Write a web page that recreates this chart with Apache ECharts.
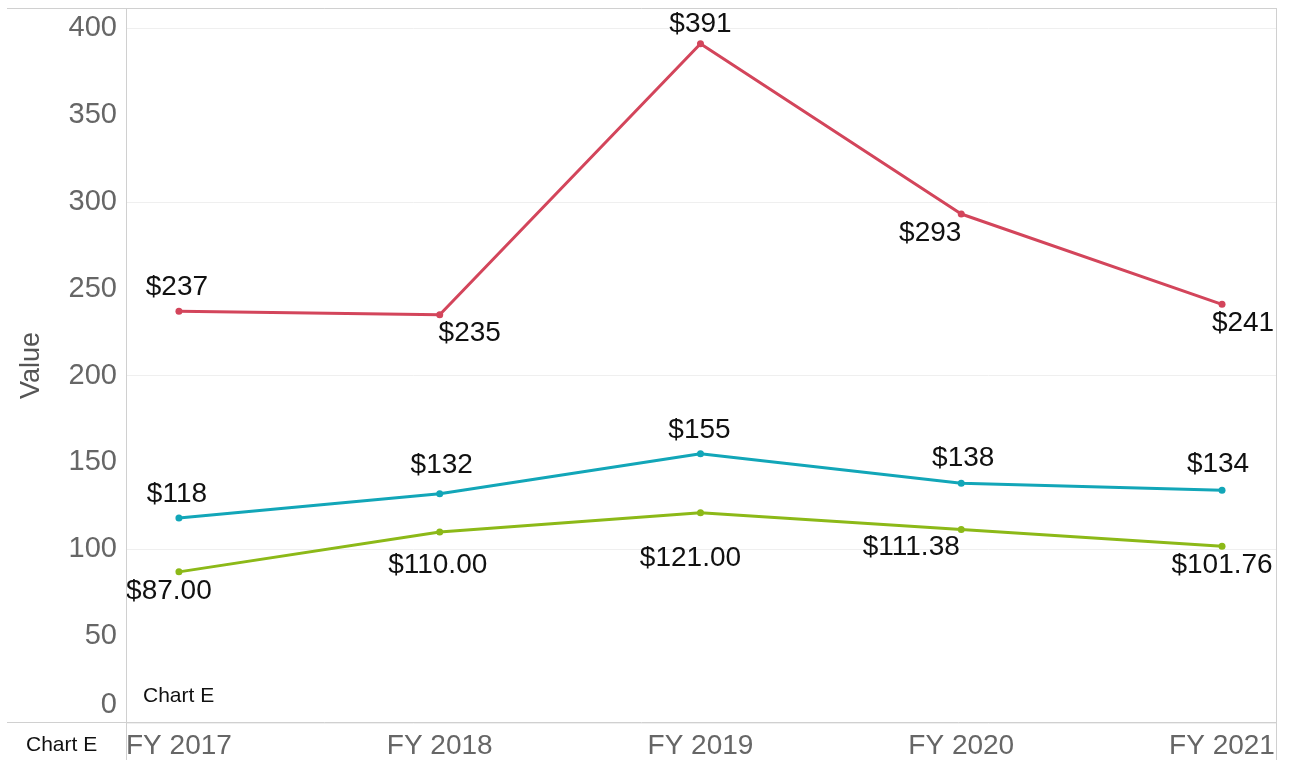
<!DOCTYPE html>
<html>
<head>
<meta charset="utf-8">
<script src="https://cdn.jsdelivr.net/npm/echarts@6/dist/echarts.min.js"></script>
<style>
  html, body { margin: 0; padding: 0; background: #fff; }
  #main { width: 1289px; height: 760px; }
</style>
</head>
<body>
<div id="main"></div>
<script>
const years = ['FY 2017', 'FY 2018', 'FY 2019', 'FY 2020', 'FY 2021'];
const redValues = [237, 235, 391, 293, 241];
const tealValues = [118, 132, 155, 138, 134];
const greenValues = [87.00, 110.00, 121.00, 111.38, 101.76];
const yTicks = [0, 50, 100, 150, 200, 250, 300, 350, 400];

// where each value label sits relative to its point (dx, dy in px)
const redLabelOffsets = [[-2, -24], [30, 19], [0, -20], [-31, 19], [21, 19]];
const tealLabelOffsets = [[-2, -24], [2, -28], [-1, -23], [2, -25], [-4, -26]];
const greenLabelOffsets = [[-10, 19], [-2, 33], [-10, 45], [-50, 18], [0, 19]];

const font = 'Liberation Sans, Arial, sans-serif';
const chart = echarts.init(document.getElementById('main'));

function makeSeries(values, color, offsets, decimals) {
  return {
    type: 'line',
    data: values.map((v, i) => ({
      value: [i, v],
      label: { offset: offsets[i] }
    })),
    color: color,
    symbol: 'circle',
    symbolSize: 7,
    lineStyle: { width: 3, color: color },
    itemStyle: { color: color },
    label: {
      show: true,
      position: 'inside',
      color: '#111',
      fontFamily: font,
      fontSize: 28,
      formatter: p => '$' + p.value[1].toFixed(decimals)
    },
    emphasis: { disabled: true },
    z: 3
  };
}

const border = '#d0d0d0';
let option = {
  animation: false,
  backgroundColor: '#fff',
  grid: { left: 126, right: 13, top: 8, bottom: 37 },
  xAxis: {
    type: 'value',
    min: -0.203,
    max: 4.207,
    axisLine: { show: false },
    axisTick: { show: false },
    splitLine: { show: false },
    axisLabel: {
      customValues: years.map((y, i) => i),
      formatter: v => years[Math.round(v)],
      color: '#666',
      fontFamily: font,
      fontSize: 28,
      margin: 9
    }
  },
  yAxis: {
    type: 'value',
    min: 0,
    max: 411.6,
    name: 'Value',
    nameLocation: 'middle',
    nameGap: 81,
    nameTextStyle: { color: '#555', fontFamily: font, fontSize: 27 },
    axisLine: { show: false },
    axisTick: { show: false },
    splitLine: { show: true, lineStyle: { color: '#efefef', width: 1 } },
    axisLabel: {
      customValues: yTicks,
      color: '#666',
      fontFamily: font,
      fontSize: 29,
      margin: 9,
      formatter: v => v === 0 ? '{z|0}' : String(v),
      rich: { z: { color: '#666', fontFamily: font, fontSize: 29, padding: [0, 0, 36, 0] } }
    }
  },
  graphic: [
    { type: 'line', shape: { x1: 7, y1: 8.5, x2: 1276, y2: 8.5 }, style: { stroke: border, lineWidth: 1 }, z: 10 },
    { type: 'line', shape: { x1: 7, y1: 722.5, x2: 1276, y2: 722.5 }, style: { stroke: border, lineWidth: 1 }, z: 10 },
    { type: 'line', shape: { x1: 126.5, y1: 8, x2: 126.5, y2: 760 }, style: { stroke: border, lineWidth: 1 }, z: 10 },
    { type: 'line', shape: { x1: 1276.5, y1: 8, x2: 1276.5, y2: 760 }, style: { stroke: border, lineWidth: 1 }, z: 10 },
    { type: 'text', left: 143, top: 686, style: { text: 'Chart E', fill: '#111', font: '21px ' + font } },
    { type: 'text', left: 26, top: 735, style: { text: 'Chart E', fill: '#111', font: '21px ' + font } }
  ],
  series: [
    makeSeries(redValues, '#d3455b', redLabelOffsets, 0),
    makeSeries(tealValues, '#12a6b8', tealLabelOffsets, 0),
    makeSeries(greenValues, '#8cb918', greenLabelOffsets, 2)
  ]
};
chart.setOption(option);
</script>
</body>
</html>
